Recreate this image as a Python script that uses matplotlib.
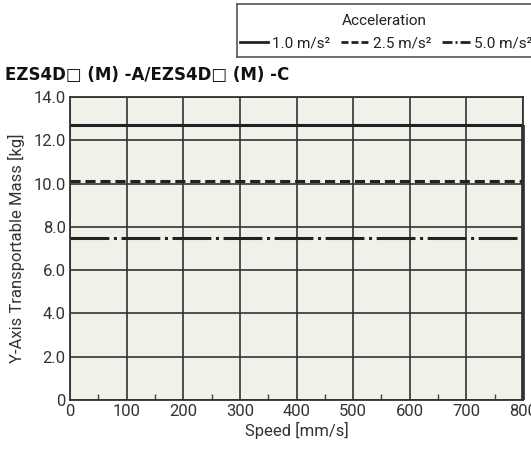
import matplotlib
matplotlib.use("Agg")
import matplotlib.pyplot as plt
from matplotlib.lines import Line2D

speed = [0, 800, 800]
mass_10 = [12.7, 12.7, 0]
mass_25 = [10.1, 10.1, 0]
mass_50 = [7.5, 7.5, 0]
labels = ["1.0 m/s²", "2.5 m/s²", "5.0 m/s²"]
xticks = [0, 100, 200, 300, 400, 500, 600, 700, 800]
yticks = [0, 2, 4, 6, 8, 10, 12, 14]
ytick_labels = ["0", "2.0", "4.0", "6.0", "8.0", "10.0", "12.0", "14.0"]

plt.rcParams["font.family"] = ["Roboto", "DejaVu Sans"]

DASHED = (0, (3.3, 1.6))
DASHDOT = (0, (12.7, 1.5, 1, 1.5))

fig = plt.figure(figsize=(5.31, 4.5), dpi=100)
ax = fig.add_axes([70/531, 1-400/450, 453/531, 303/450])
ax.set_facecolor("#f1f0e9")
ax.set_xlim(0, 800)
ax.set_ylim(0, 14)
ax.set_xticks(xticks)
ax.set_yticks(yticks)
ax.set_yticklabels(ytick_labels)
ax.set_xticks([50, 150, 250, 350, 450, 550, 650, 750], minor=True)
ax.tick_params(axis="both", which="major", length=0, labelsize=12, colors="#333333", pad=3)
ax.tick_params(axis="x", which="minor", direction="in", length=4, width=1, color="#444444")
ax.grid(True, which="major", color="#333333", linewidth=1.2)
for s in ax.spines.values():
    s.set_color("#333333")
    s.set_linewidth(1.3)

ax.plot(speed[:2], mass_10[:2], color="#222222", lw=2.2, ls="-", solid_capstyle="butt", clip_on=False)
ax.plot(speed[:2], mass_25[:2], color="#222222", lw=2.2, ls=DASHED, clip_on=False)
ax.plot(speed[:2], mass_50[:2], color="#222222", lw=2.2, ls=DASHDOT, clip_on=False)
ax.plot(speed[1:], mass_10[1:], color="#222222", lw=2.6, solid_capstyle="butt", clip_on=False)

ax.set_xlabel("Speed [mm/s]", fontsize=12, color="#333333", labelpad=2)
ax.set_ylabel("Y-Axis Transportable Mass [kg]", fontsize=12, color="#333333", labelpad=6)

fig.text(5/531, 1-75/450, "EZS4D□ (M) -A/EZS4D□ (M) -C", fontsize=12, fontweight="bold",
         family=["DejaVu Sans"], color="#111111", va="center", ha="left")

# legend box
fig.add_artist(Line2D([237/531, 1.0], [1-4/450, 1-4/450], color="#555555", lw=1.2))
fig.add_artist(Line2D([237/531, 1.0], [1-57/450, 1-57/450], color="#555555", lw=1.2))
fig.add_artist(Line2D([237/531, 237/531], [1-57/450, 1-4/450], color="#555555", lw=1.2))
fig.text(384/531, 1-21/450, "Acceleration", fontsize=11, color="#222222", ha="center", va="center")
handles = [
    Line2D([], [], color="#222222", lw=2, ls="-"),
    Line2D([], [], color="#222222", lw=2, ls=(0, (2.5, 1.1))),
    Line2D([], [], color="#222222", lw=2, ls=(0, (3.6, 1.1, 0.7, 1.1))),
]
leg = fig.legend(handles, labels, loc="center", bbox_to_anchor=(386/531, 1-43/450), ncol=3,
                 frameon=False, fontsize=11, handlelength=1.85, handletextpad=0.25,
                 columnspacing=0.7, labelcolor="#222222", borderpad=0, borderaxespad=0)

fig.savefig("out.png", dpi=100)
